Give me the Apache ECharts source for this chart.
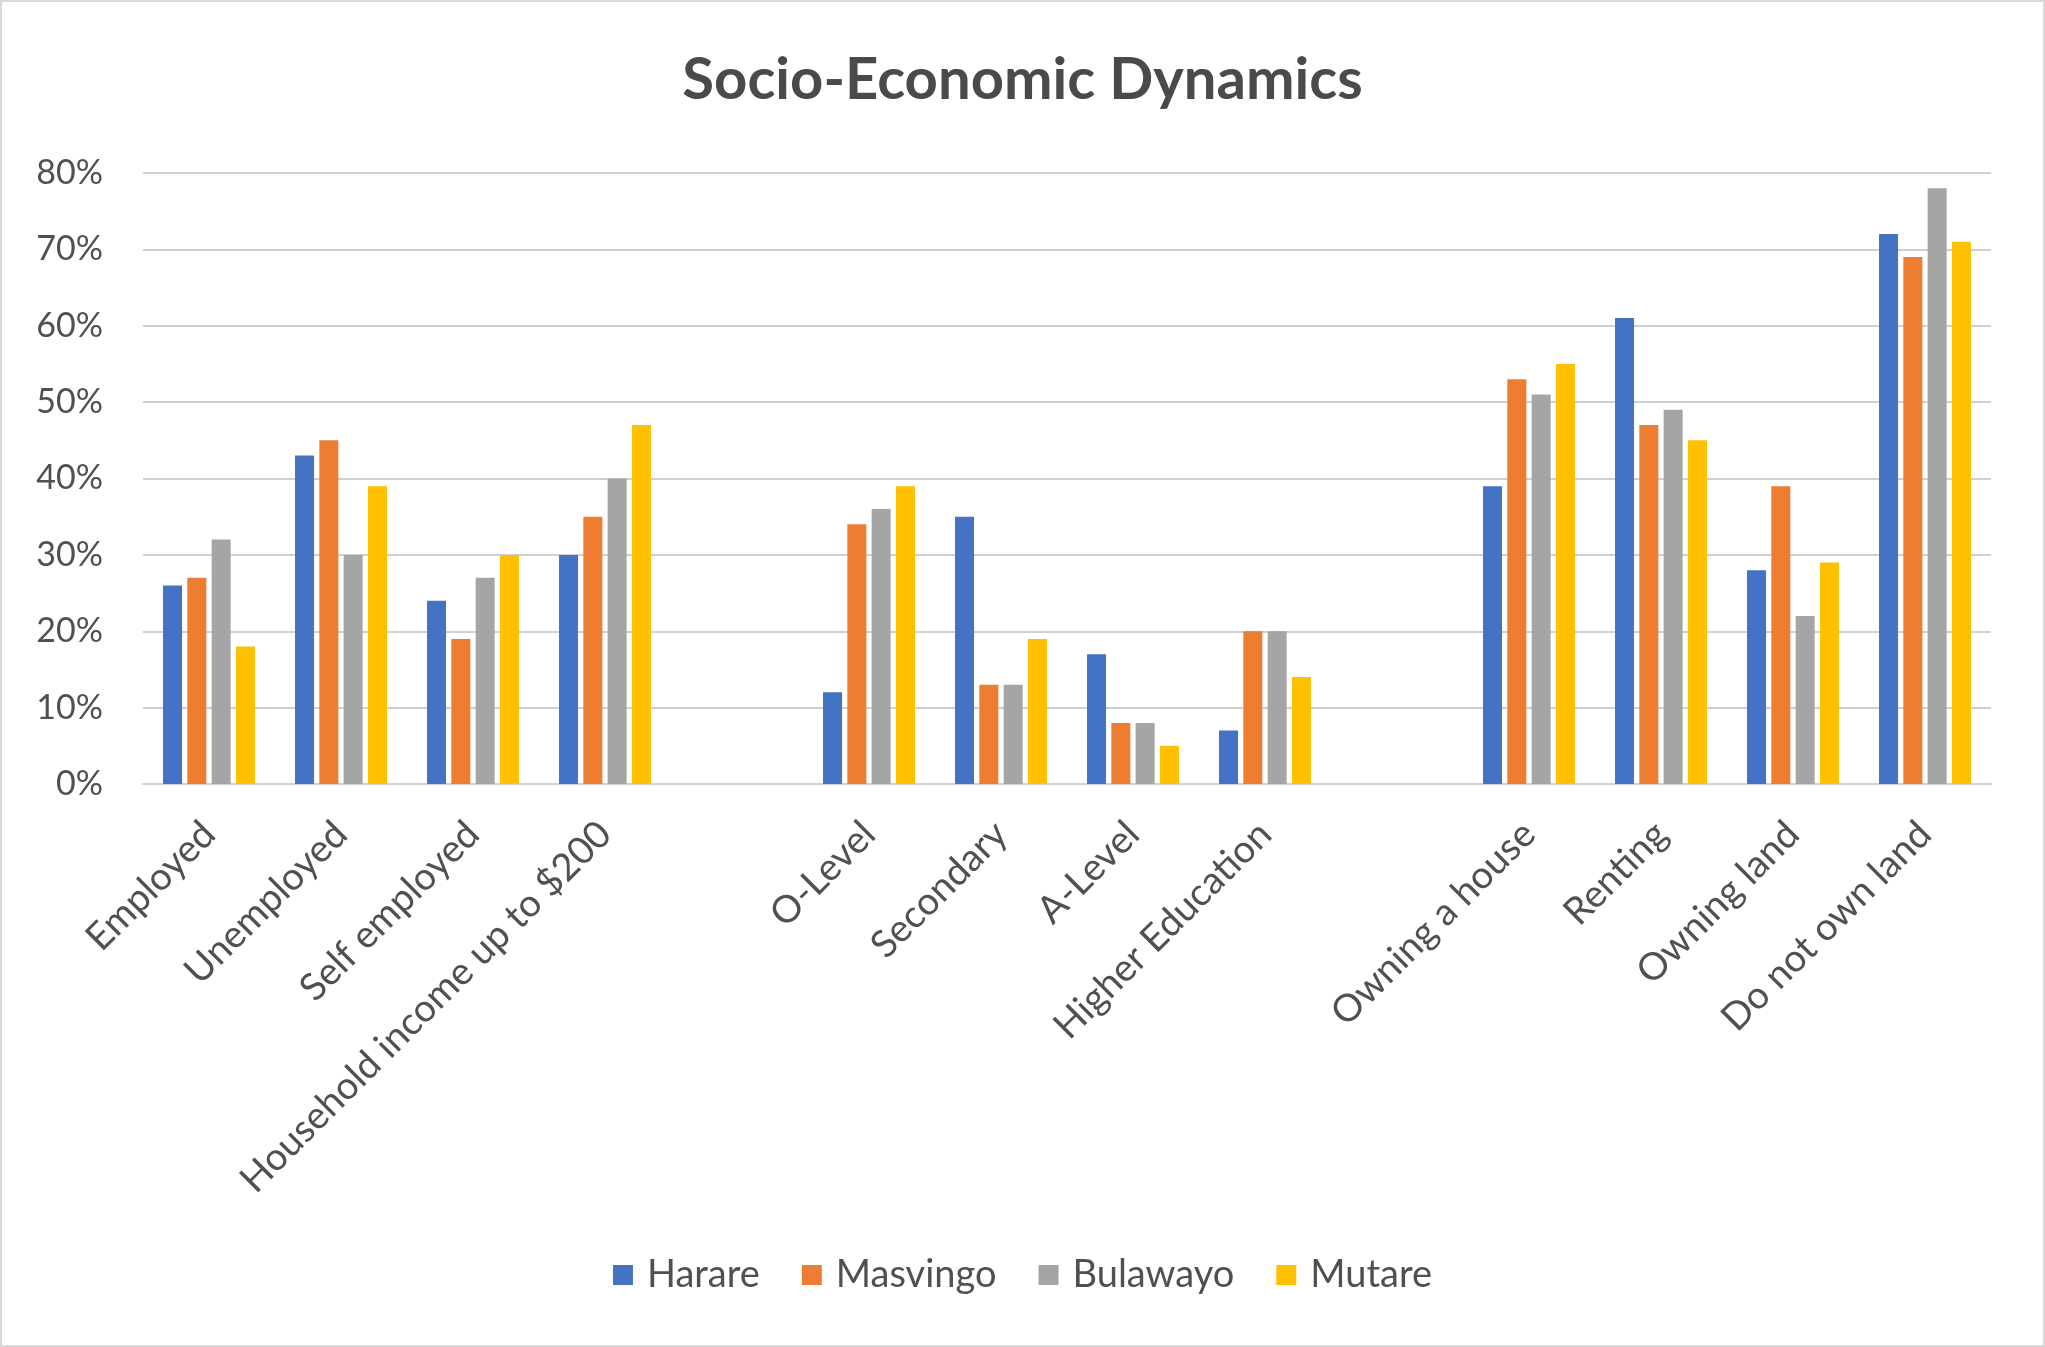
<!DOCTYPE html>
<html><head><meta charset="utf-8">
<script src="https://cdn.jsdelivr.net/npm/echarts@6/dist/echarts.min.js"></script>
<style>html,body{margin:0;padding:0;background:#fff}#c{width:2045px;height:1347px;box-sizing:border-box;border:2px solid #d9d9d9}</style>
</head><body><div id="c"></div>
<script>
// Categories (blank entries are the spacer slots between groups)
const categories = ['Employed','Unemployed','Self employed','Household income up to $200','',
  'O-Level','Secondary','A-Level','Higher Education','',
  'Owning a house','Renting','Owning land','Do not own land'];
const harare   = [26,43,24,30,'-',12,35,17,7,'-',39,61,28,72];
const masvingo = [27,45,19,35,'-',34,13,8,20,'-',53,47,39,69];
const bulawayo = [32,30,27,40,'-',36,13,8,20,'-',51,49,22,78];
const mutare   = [18,39,30,47,'-',39,19,5,14,'-',55,45,29,71];
const seriesNames = ['Harare','Masvingo','Bulawayo','Mutare'];
const colors = ['#4472C4','#ED7D31','#A5A5A5','#FFC000'];

const font = 'Lato, "Open Sans", sans-serif';
const chart = echarts.init(document.getElementById('c'), null, {renderer:'canvas'});
const vals = [harare, masvingo, bulawayo, mutare];
chart.setOption({
  animation:false,
  color: colors,
  title:{text:'Socio-Economic Dynamics', left:'center', top:44,
    textStyle:{fontFamily:font, fontSize:58, fontWeight:'bold', color:'#4a4a4a'}},
  legend:{data:seriesNames, bottom:46, left:'center', icon:'rect', itemWidth:20, itemHeight:20, itemGap:42,
    textStyle:{fontFamily:font, fontSize:38, color:'#505050', padding:[0,0,0,9]}},
  grid:{left:141, right:52, top:171, bottom:561, containLabel:false},
  xAxis:{type:'category', data:categories,
    axisLine:{lineStyle:{color:'#D0D0D0', width:2}}, axisTick:{show:false},
    axisLabel:{rotate:45, interval:0, fontFamily:font, fontSize:38, color:'#505050', margin:44}},
  yAxis:{type:'value', min:0, max:80, interval:10,
    axisLabel:{formatter:'{value}%', fontFamily:font, fontSize:34, color:'#505050', margin:40},
    splitLine:{lineStyle:{color:'#D0D0D0', width:2}}, axisLine:{show:false}, axisTick:{show:false}},
  series: seriesNames.map((n,i)=>({name:n, type:'bar', data:vals[i], barWidth:19, barGap:'28%'}))
});
</script></body></html>
